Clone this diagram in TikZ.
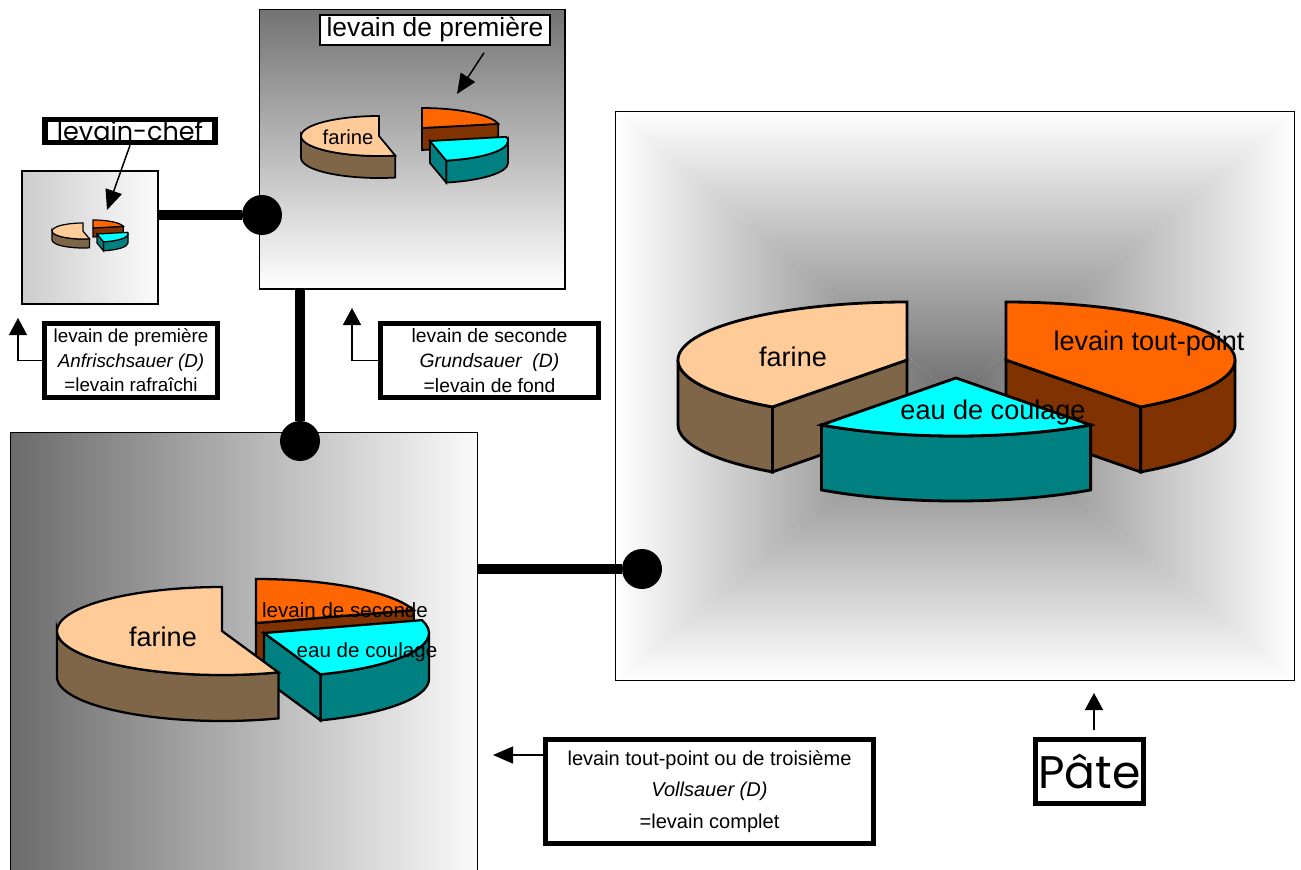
\documentclass[tikz,border=0pt]{standalone}
\usepackage{fontspec}
\setmainfont{Liberation Sans}
\newfontfamily\comicfont{Poppins}
\usetikzlibrary{arrows.meta,positioning}

\definecolor{farinetop}{HTML}{FFCC99}
\definecolor{farineside}{HTML}{806648}
\definecolor{levaintop}{HTML}{FF6600}
\definecolor{levainside}{HTML}{803300}
\definecolor{eautop}{HTML}{00FFFF}
\definecolor{eauside}{HTML}{008080}
\definecolor{framedark}{HTML}{737373}
\definecolor{centregray}{HTML}{6E6E6E}
\definecolor{halfgray}{HTML}{D2D2D2}

% one 3d pie slice: centre x, centre y, rx, ry, depth, from, to, top colour, side colour
\newcommand{\pieslice}[9]{%
  \begin{scope}[shift={(#1,#2)},x={(#3*0.02cm,0)},y={(0,-#4*0.02cm)}]
    \pgfmathsetmacro\slicea{max(#6,0)}
    \pgfmathsetmacro\sliceb{min(#7,180)}
    \pgfmathsetmacro\sliced{#5/#4}
    \pgfmathsetmacro\cosa{cos(#6)}
    \pgfmathsetmacro\cosb{cos(#7)}
    \ifdim\slicea pt<\sliceb pt
      \filldraw[fill=#9] (\slicea:1) arc[start angle=\slicea,end angle=\sliceb,radius=1]
        -- ++(0,\sliced) arc[start angle=\sliceb,end angle=\slicea,radius=1] -- cycle;
    \fi
    \ifdim\cosa pt<-0.01pt
      \filldraw[fill=#9] (0,0) -- (#6:1) -- ++(0,\sliced) -- (0,\sliced) -- cycle;
    \fi
    \ifdim\cosb pt>0.01pt
      \filldraw[fill=#9] (0,0) -- (#7:1) -- ++(0,\sliced) -- (0,\sliced) -- cycle;
    \fi
    \filldraw[fill=#8] (0,0) -- (#6:1) arc[start angle=#6,end angle=#7,radius=1] -- cycle;
  \end{scope}}

\begin{document}
\begin{tikzpicture}[x=0.02cm,y=-0.02cm,
    frame/.style={draw,line width=0.6pt,inner sep=0pt},
    tag/.style={draw,line width=3.2pt,fill=white,align=center,inner sep=0pt},
    dot/.style={circle,fill=black,minimum size=0.8cm,inner sep=0pt},
    link/.style={line width=5.7pt},
    pointer/.style={-{Triangle[length=0.4cm,width=0.34cm]},line width=0.85pt},
    elbow/.style={-{Triangle[length=0.34cm,width=0.36cm]},line width=0.85pt}]
    \useasboundingbox (0,0) rectangle (1301,869);

    % chart frames
    \node[frame,left color=gray!40,right color=white!97!gray,minimum width=2.72cm,minimum height=2.66cm] (chef) at (90,237.5) {};
    \node[frame,top color=framedark,bottom color=white,minimum width=6.12cm,minimum height=5.6cm] (first) at (412,149) {};
    \node[frame,left color=black!58,right color=white!98!black,minimum width=9.36cm,minimum height=8.96cm] (second) at (244,656) {};
    \shade[top color=white,middle color=halfgray,bottom color=centregray] (615,111) -- (1295,111) -- (955,396) -- cycle;
    \shade[left color=centregray,middle color=halfgray,right color=white] (1295,111) -- (1295,681) -- (955,396) -- cycle;
    \shade[top color=centregray,middle color=halfgray,bottom color=white] (615,681) -- (1295,681) -- (955,396) -- cycle;
    \shade[left color=white,middle color=halfgray,right color=centregray] (615,111) -- (615,681) -- (955,396) -- cycle;
    \node[frame,minimum width=13.6cm,minimum height=11.4cm] (third) at (955,396) {};

    % pies
    \begin{scope}[line width=0.7pt]
        \pieslice{93}{228}{31}{8}{9}{-90}{-12}{levaintop}{levainside}
        \pieslice{97}{234}{31}{8}{9}{-12}{78}{eautop}{eauside}
        \pieslice{83}{231}{31}{8}{9}{78}{270}{farinetop}{farineside}
    \end{scope}
    \begin{scope}[line width=1pt]
        \pieslice{422}{128}{78}{20}{22}{-90}{-12}{levaintop}{levainside}
        \pieslice{430}{141}{78}{20}{22}{-12}{78}{eautop}{eauside}
        \pieslice{379}{136}{78}{20}{22}{78}{270}{farinetop}{farineside}
    \end{scope}
    \begin{scope}[line width=1.3pt]
        \pieslice{256}{623}{165}{44}{46}{-90}{-17}{levaintop}{levainside}
        \pieslice{264}{633}{165}{44}{46}{-17}{70}{eautop}{eauside}
        \pieslice{222}{631}{165}{44}{46}{70}{270}{farinetop}{farineside}
    \end{scope}
    \begin{scope}[line width=1.6pt]
        \pieslice{907}{360}{229}{58}{65}{126}{270}{farinetop}{farineside}
        \pieslice{1006}{360}{229}{58}{65}{-90}{54}{levaintop}{levainside}
        \pieslice{956}{378}{229}{58}{65}{54}{126}{eautop}{eauside}
    \end{scope}

    % slice labels
    \node[font=\fontsize{11.5}{13}\selectfont] (farineA) at (348,137) {farine};
    \node[font=\fontsize{15.4}{18}\selectfont] (farineB) at (163,637) {farine};
    \node[font=\fontsize{11.7}{14}\selectfont] (levainB) at (345,610) {levain de seconde};
    \node[font=\fontsize{11.7}{14}\selectfont] (eauB) at (367,652) {eau de coulage};
    \node[font=\fontsize{15.4}{18}\selectfont] (farineC) at (793,357) {farine};
    \node[font=\fontsize{15.4}{18}\selectfont] (levainC) at (1149,343) {levain tout-point};
    \node[font=\fontsize{15.4}{18}\selectfont] (eauC) at (993,412) {eau de coulage};

    % labels
    \node[tag,minimum width=3.4cm,minimum height=0.46cm,font=\comicfont\fontsize{14.5}{16}\selectfont] (cheflabel) at (130,131) {levain-chef};
    \node[draw,line width=0.9pt,fill=white,inner sep=0pt,minimum width=4.6cm,minimum height=0.6cm,font=\fontsize{15}{18}\selectfont] (firstlabel) at (435,30) {levain de première};
    \node[tag,minimum width=3.46cm,minimum height=1.48cm,font=\fontsize{10.7}{14}\selectfont] (anf) at (131,360.5) {levain de première\\ \textit{Anfrischsauer (D)}\\ =levain rafraîchi};
    \node[tag,minimum width=4.36cm,minimum height=1.48cm,font=\fontsize{11}{14}\selectfont] (grund) at (489.5,360.5) {levain de seconde\\ \textit{Grundsauer\ \ (D)}\\ =levain de fond};
    \node[tag,minimum width=6.56cm,minimum height=2.08cm,font=\fontsize{11.4}{18}\selectfont] (voll) at (709.5,791.5) {levain tout-point ou de troisième\\ \textit{Vollsauer (D)}\\ =levain complet};
    \node[tag,minimum width=2.16cm,minimum height=1.28cm,font=\comicfont\fontsize{26}{30}\selectfont] (pate) at (1089.5,771.5) {Pâte};

    % arrows
    \coordinate (chefpie) at (107,210);
    \coordinate (firstpie) at (457,94);
    \coordinate (anftip) at (18,318);
    \coordinate (grundtip) at (352,308);
    \coordinate (volltip) at (493,755);
    \coordinate (patetip) at (1094,693);
    \draw[pointer] (cheflabel.south) -- (chefpie);
    \draw[pointer] ([xshift=0.98cm,yshift=-0.14cm]firstlabel.south) -- (firstpie);
    \draw[elbow] (anf.west) -| (anftip);
    \draw[elbow] (grund.west) -| (grundtip);
    \draw[pointer] (volltip -| voll.west) -- (volltip);
    \draw[elbow,shorten <=4pt] (patetip |- pate.north) -- (patetip);

    % links
    \node[dot] (dot1) at (262,215) {};
    \node[dot] (dot2) at (300,441) {};
    \node[dot] (dot3) at (642,569) {};
    \draw[link] (chef.east |- dot1) -- (dot1);
    \draw[link] (first.south -| dot2) -- (dot2);
    \draw[link] (second.east |- dot3) -- (dot3);
\end{tikzpicture}
\end{document}
